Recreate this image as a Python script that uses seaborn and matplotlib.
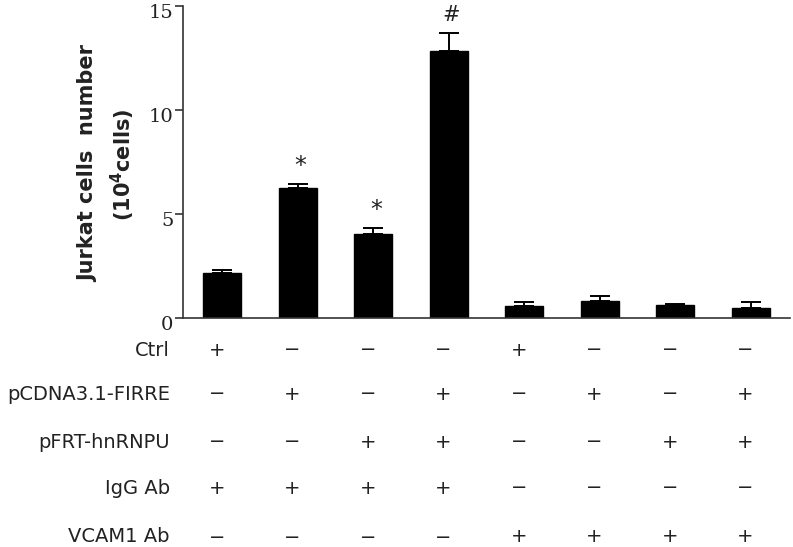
import matplotlib
matplotlib.use("Agg")

import matplotlib.pyplot as plt
import matplotlib.transforms as mtransforms
import pandas as pd
import seaborn as sns

# bar groups, left to right
GROUPS = ["G1", "G2", "G3", "G4", "G5", "G6", "G7", "G8"]
CELLS = [2.18, 6.23, 4.04, 12.85, 0.58, 0.83, 0.64, 0.47]
SEM = [0.13, 0.19, 0.29, 0.84, 0.19, 0.23, 0.03, 0.30]
MARKS = ["", "*", "*", "#", "", "", "", ""]

YTICKS = [0, 5, 10, 15]

# treatment table under the bars
ROW_LABELS = ["Ctrl", "pCDNA3.1-FIRRE", "pFRT-hnRNPU", "IgG Ab", "VCAM1 Ab"]
ROW_SIGNS = [
    ["+", "−", "−", "−", "+", "−", "−", "−"],
    ["−", "+", "−", "+", "−", "+", "−", "+"],
    ["−", "−", "+", "+", "−", "−", "+", "+"],
    ["+", "+", "+", "+", "−", "−", "−", "−"],
    ["−", "−", "−", "−", "+", "+", "+", "+"],
]

INK = "#222222"
SPINE = "#333333"


def set_style() -> None:
    sns.set_style("white")
    plt.rcParams["font.family"] = ["DejaVu Sans"]
    plt.rcParams["mathtext.fontset"] = "dejavusans"


def main() -> None:
    set_style()
    df = pd.DataFrame({"group": GROUPS, "cells": CELLS, "sem": SEM})

    fig = plt.figure(figsize=(7.93, 5.47), dpi=100)
    ax = fig.add_axes([183 / 793, 1 - 318 / 547, 607 / 793, 312 / 547])

    sns.barplot(
        data=df,
        x="group",
        y="cells",
        color="black",
        edgecolor="black",
        width=0.5,
        errorbar=None,
        saturation=1,
        ax=ax,
    )

    centers = [p.get_x() + p.get_width() / 2 for p in ax.patches]
    ax.errorbar(
        centers,
        df["cells"],
        yerr=[[0] * len(df), df["sem"]],
        fmt="none",
        ecolor="black",
        elinewidth=1.4,
        capsize=7,
        capthick=1.4,
    )

    for x, top, mark in zip(centers, df["cells"] + df["sem"], MARKS):
        if mark:
            ax.annotate(
                mark,
                (x, top),
                xytext=(2, 13),
                textcoords="offset points",
                ha="center",
                va="center",
                fontsize=17 if mark == "*" else 15,
                color=INK,
            )

    ax.set_xlim(-0.52, 7.52)
    ax.set_ylim(0, 15)
    ax.set_yticks(YTICKS)
    ax.set_xticks([])
    ax.set_xlabel("")
    ax.set_ylabel("")
    sns.despine(ax=ax)
    for side in ["left", "bottom"]:
        ax.spines[side].set_color(SPINE)
        ax.spines[side].set_linewidth(1.2)
    ax.tick_params(axis="y", left=True, direction="out", length=6, width=1.2,
                   color=SPINE, pad=1, labelsize=14, labelcolor=INK)
    shift = mtransforms.ScaledTranslation(0, -0.05, fig.dpi_scale_trans)
    for lab in ax.get_yticklabels():
        lab.set_fontfamily("DejaVu Serif")
        lab.set_transform(lab.get_transform() + shift)

    # y label, two rotated lines
    fig.text(88 / 793, 1 - 163 / 547, "Jurkat cells  number", rotation=90,
             ha="center", va="center", fontsize=15, fontweight="bold", color=INK)
    fig.text(123 / 793, 1 - 165 / 547, r"(10$^{\mathbf{4}}$cells)", rotation=90,
             ha="center", va="center", fontsize=15, fontweight="bold", color=INK)

    # treatment table
    row_y = [1 - 350 / 547, 1 - 394 / 547, 1 - 442 / 547, 1 - 488 / 547, 1 - 537 / 547]
    trans = mtransforms.blended_transform_factory(ax.transData, fig.transFigure)
    for label, signs, y in zip(ROW_LABELS, ROW_SIGNS, row_y):
        fig.text(170 / 793, y, label, ha="right", va="center", fontsize=14, color=INK)
        for x, s in zip(centers, signs):
            ax.text(x - 0.07, y, s, transform=trans, ha="center", va="center",
                    fontsize=14, color=INK, clip_on=False)

    fig.savefig("out.png", dpi=100)
    plt.close(fig)


if __name__ == "__main__":
    main()
